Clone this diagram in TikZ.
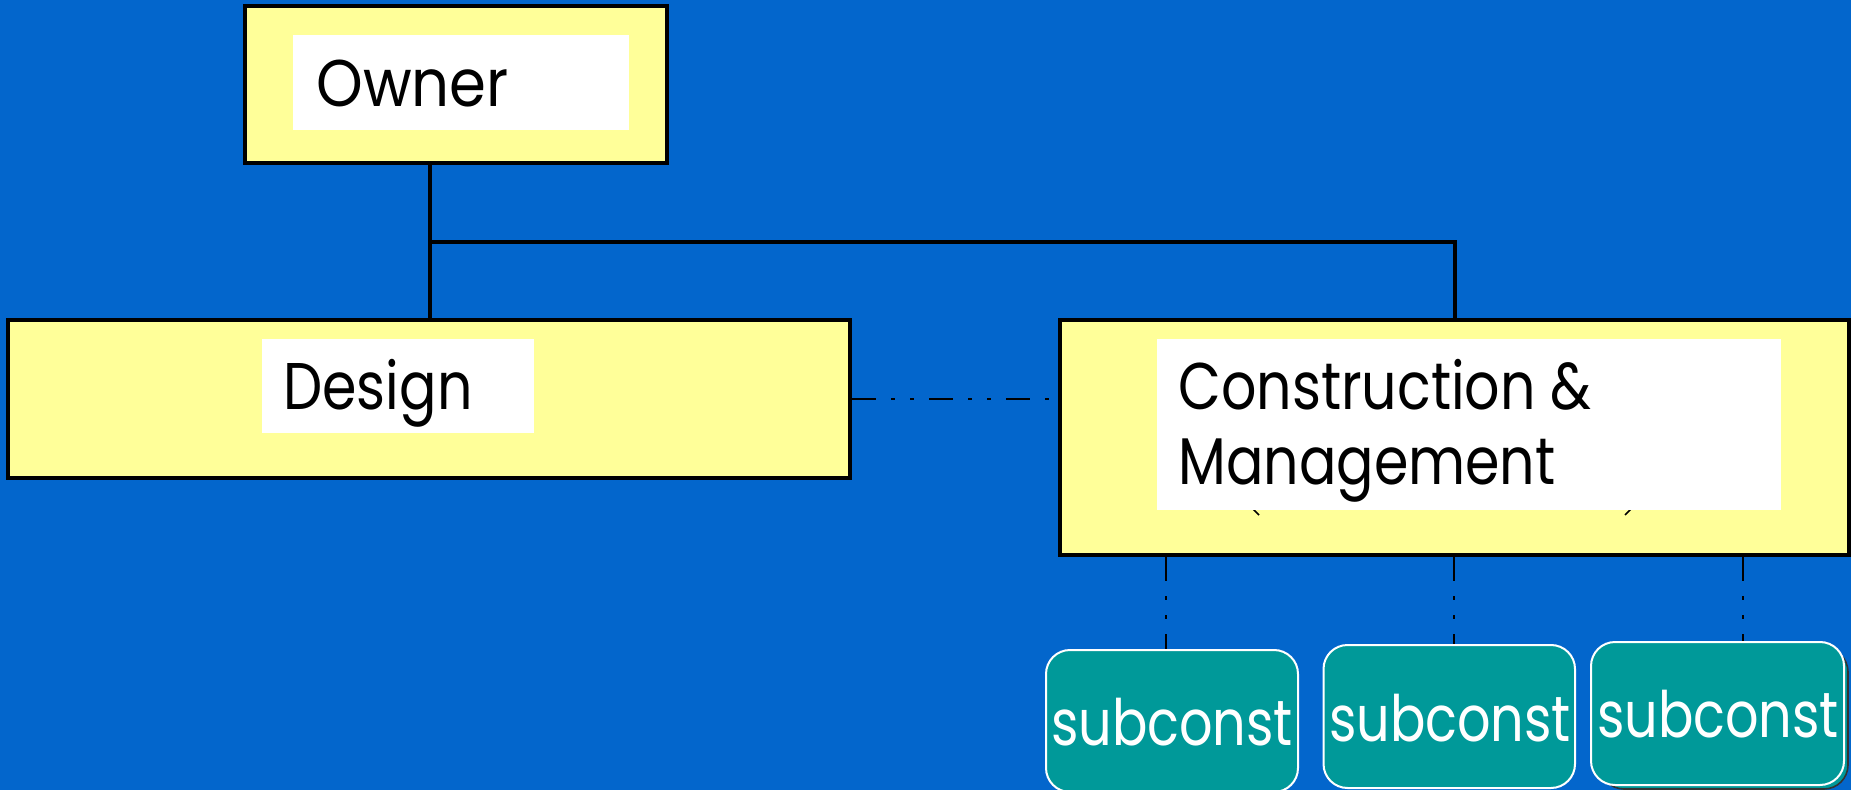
\documentclass[tikz,border=0pt]{standalone}
\usepackage{fontspec}
\setmainfont{Poppins}
\newfontfamily\ownerfont[FakeStretch=0.9]{Poppins}
\newfontfamily\boxfont[FakeStretch=0.84]{Poppins}
\newfontfamily\subfont[FakeStretch=0.82]{Poppins}
\definecolor{bgblue}{RGB}{3,102,204}
\definecolor{paleyellow}{RGB}{255,255,153}
\definecolor{tealbox}{RGB}{0,153,153}
\tikzset{
  ybox/.style={draw=black, line width=2pt, fill=paleyellow, inner sep=0pt},
  wbox/.style={fill=white, inner sep=0pt},
  lbl/.style={inner sep=0pt, anchor=base west, font=\boxfont\fontsize{33}{37.5}\selectfont, text=black},
  sbox/.style={draw=white, line width=1pt, fill=tealbox, rounded corners=12pt, inner sep=0pt},
  slbl/.style={inner sep=0pt, anchor=base, font=\subfont\fontsize{32}{36}\selectfont, text=white},
  conn/.style={draw=black, line width=2pt},
  dashdot/.style={draw=black, line width=0.7pt, dash pattern=on 12pt off 7.5pt on 2pt off 7.5pt on 2pt off 7.5pt},
}
\begin{document}
\begin{tikzpicture}[x=0.5pt, y=-0.5pt]
\fill[bgblue] (0,0) rectangle (1851,790);
\useasboundingbox (0,0) rectangle (1851,790);
% boxes
\node[ybox, minimum width=210.75pt, minimum height=78.5pt] (owner) at (456,84.5) {};
\node[ybox, minimum width=421pt, minimum height=79pt] (design) at (429,399) {};
\node[ybox, minimum width=394.5pt, minimum height=117.5pt] (cm) at (1454.5,437.5) {};
% partial marks below CM label
\draw[line width=0.8pt] (1253,509) -- (1259,515);
\draw[line width=0.8pt] (1631,509) -- (1625,515);
% white label backgrounds
\node[wbox, minimum width=168pt, minimum height=47.5pt] (ownerbg) at (461,82.5) {};
\node[wbox, minimum width=136pt, minimum height=47pt] (designbg) at (398,386) {};
\node[wbox, minimum width=312pt, minimum height=85.5pt] (cmbg) at (1469,424.5) {};
% labels
\node[lbl, font=\ownerfont\fontsize{33}{37.5}\selectfont] (ownertxt) at (316,107) {Owner};
\node[lbl] (designtxt) at (283,410) {Design};
\node[lbl] (cmtxt1) at (1178,410) {Construction \&};
\node[lbl] (cmtxt2) at (1178,485) {Management};
% connectors
\coordinate (j) at (430,242);
\draw[conn] (j |- owner.south) -- (j) -| (cm.north);
\draw[conn] (j) -- (j |- design.north);
\draw[dashdot] (design.east) -- (design.east -| cm.west);
% hidden box behind third subcontractor
\draw[draw=black!80, line width=0.8pt, fill=tealbox, rounded corners=12pt] (1600,648) rectangle (1848,789);
% subcontractor boxes
\node[sbox, minimum width=126pt, minimum height=71pt] (sub1) at (1172,721) {};
\node[sbox, minimum width=125.75pt, minimum height=71.5pt] (sub2) at (1449.25,716.5) {};
\node[sbox, minimum width=126.5pt, minimum height=71.5pt] (sub3) at (1717.5,713.5) {};
\node[slbl] (sub1txt) at (1172,745) {subconst};
\node[slbl] (sub2txt) at (1450,741) {subconst};
\node[slbl] (sub3txt) at (1718,737) {subconst};
% dash-dot links
\coordinate (d1) at (1166,0);
\coordinate (d2) at (1454,0);
\coordinate (d3) at (1743,0);
\draw[dashdot] (d1 |- cm.south) -- (d1 |- sub1.north);
\draw[dashdot] (d2 |- cm.south) -- (d2 |- sub2.north);
\draw[dashdot] (d3 |- cm.south) -- (d3 |- sub3.north);
\end{tikzpicture}
\end{document}
